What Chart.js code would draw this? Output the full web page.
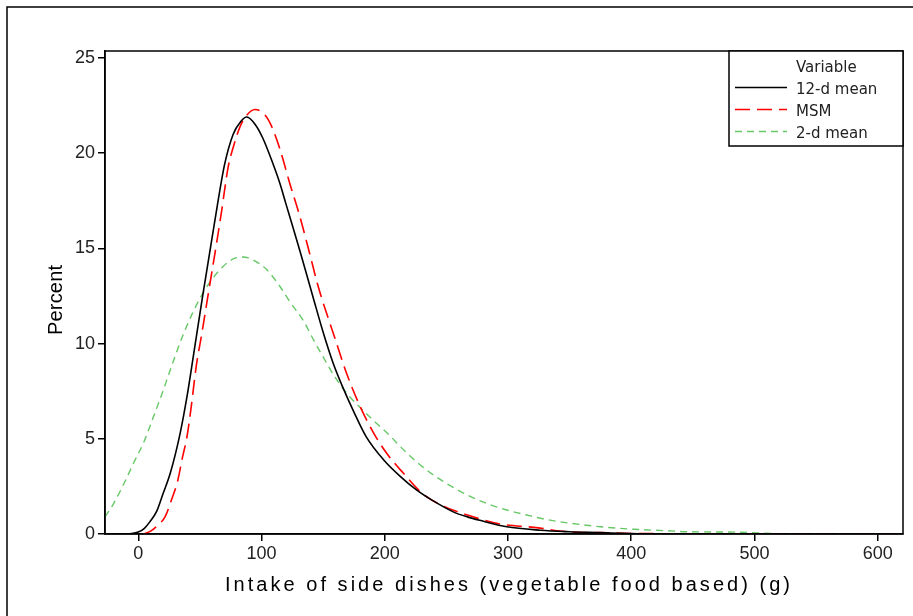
<!DOCTYPE html>
<html lang="en">
<head>
    <meta charset="UTF-8">
    <title>Intake of side dishes</title>
    <script src="https://cdn.jsdelivr.net/npm/chart.js"></script>
    <style>
        body { margin: 0; background: #fff; }
        #wrap { width: 913px; height: 616px; }
    </style>
</head>
<body>
    <div id="wrap"><canvas id="chart" width="913" height="616"></canvas></div>
    <script>
        // --- data ---
        const xTicks = [0, 100, 200, 300, 400, 500, 600];
        const yTicks = [0, 5, 10, 15, 20, 25];
        const seriesNames = ['12-d mean', 'MSM', '2-d mean'];

        const mean12X = [-8, 0, 5, 9.5, 15, 20, 26, 34, 40, 46, 52, 58, 64, 70, 77, 83, 88, 95, 101, 109, 115, 120, 131, 142, 150, 158, 166, 175, 185, 199, 213, 226, 239, 256, 267, 277, 299, 326, 350, 375, 400, 420, 620];
        const mean12Y = [0, 0.1, 0.3, 0.65, 1.2, 2.1, 3.2, 5.3, 7.4, 9.9, 12.4, 14.8, 17.2, 19.4, 21.0, 21.65, 21.9, 21.5, 20.8, 19.5, 18.4, 17.3, 14.9, 12.4, 10.6, 9.0, 7.7, 6.4, 5.1, 3.9, 3.0, 2.3, 1.75, 1.15, 0.9, 0.72, 0.38, 0.2, 0.12, 0.07, 0.02, 0, 0];

        const msmX = [4, 10, 16, 21.7, 27, 32, 36, 39.5, 43, 47, 51.5, 56, 63.6, 67.7, 73, 77, 82.6, 88, 94.7, 103, 108.3, 115, 123, 131, 139, 146, 160, 169, 180, 191, 202, 215, 231, 248, 267, 294, 321, 348, 375, 400, 440, 475, 620];
        const msmY = [0, 0.15, 0.47, 0.9, 1.8, 2.8, 4.06, 5.1, 6.7, 8.8, 10.5, 12.3, 15.3, 17.0, 19.3, 20.3, 21.4, 22.0, 22.3, 22.0, 21.4, 20.2, 18.4, 16.7, 14.75, 13.0, 10.2, 8.44, 6.7, 5.3, 4.2, 3.2, 2.1, 1.45, 1.0, 0.52, 0.35, 0.12, 0.07, 0.03, 0.01, 0, 0];

        const mean2X = [-27, -20, -12, -4, 5, 12, 20, 28, 36, 44, 52, 60, 68, 77, 85, 93, 104, 115, 123, 134, 143, 150, 158, 169, 180, 191, 202, 218, 234, 250, 267, 283, 299, 315, 333, 375, 402, 429, 445, 483, 516, 530, 620];
        const mean2Y = [0.9, 1.6, 2.6, 3.7, 4.9, 6.1, 7.5, 9.0, 10.4, 11.6, 12.6, 13.4, 14.0, 14.45, 14.55, 14.4, 13.9, 13.0, 12.2, 11.2, 10.1, 9.3, 8.4, 7.4, 6.65, 5.95, 5.3, 4.25, 3.36, 2.66, 2.05, 1.6, 1.26, 1.0, 0.74, 0.38, 0.25, 0.17, 0.12, 0.1, 0.02, 0, 0];

        const seriesX = [mean12X, msmX, mean2X];
        const seriesY = [mean12Y, msmY, mean2Y];
        const seriesColors = ['#000000', '#ff0000', '#66c866'];
        const seriesDash = [[], [15, 7], [7, 5]];
        const seriesWidth = [1.6, 1.6, 1.4];

        const fontFamily = '"Liberation Sans", Arial, sans-serif';

        // --- frame, box, legend and axis titles ---
        const decorations = {
            id: 'decorations',
            beforeDraw(chart) {
                const ctx = chart.ctx;
                ctx.save();
                ctx.strokeStyle = '#000';
                ctx.lineWidth = 1.5;
                ctx.beginPath();
                ctx.moveTo(7, 620);
                ctx.lineTo(7, 7);
                ctx.lineTo(920, 7);
                ctx.stroke();
                ctx.restore();
            },
            afterDraw(chart) {
                const ctx = chart.ctx;
                const a = chart.chartArea;
                ctx.save();
                ctx.strokeStyle = '#000';
                ctx.lineWidth = 1.5;
                ctx.strokeRect(a.left, a.top, a.right - a.left, a.bottom - a.top);

                // legend box
                const lx = 729, ly = a.top, lw = a.right - 729, lh = 95;
                ctx.fillStyle = '#fff';
                ctx.fillRect(lx, ly, lw, lh);
                ctx.strokeRect(lx, ly, lw, lh);
                ctx.fillStyle = '#222';
                ctx.font = '15px "DejaVu Sans", sans-serif';
                ctx.textBaseline = 'middle';
                ctx.textAlign = 'left';
                ctx.fillText('Variable', 796, 68);
                const rowY = [89, 111, 133];
                seriesNames.forEach((name, i) => {
                    ctx.save();
                    ctx.strokeStyle = seriesColors[i];
                    ctx.lineWidth = seriesWidth[i];
                    ctx.setLineDash(seriesDash[i]);
                    ctx.beginPath();
                    ctx.moveTo(735, rowY[i] - 1.5);
                    ctx.lineTo(787, rowY[i] - 1.5);
                    ctx.stroke();
                    ctx.restore();
                    ctx.fillText(name, 796, rowY[i] + 1);
                });

                // axis titles with wide letter spacing
                ctx.fillStyle = '#000';
                ctx.font = '20px ' + fontFamily;
                ctx.textBaseline = 'alphabetic';
                ctx.textAlign = 'left';
                const xTitle = 'Intake of side dishes (vegetable food based) (g)';
                ctx.letterSpacing = '0px';
                let w = ctx.measureText(xTitle).width;
                const gap = (565 - w) / (xTitle.length - 1);
                ctx.letterSpacing = gap + 'px';
                ctx.fillText(xTitle, 225, 591);

                ctx.translate(62, 300);
                ctx.rotate(-Math.PI / 2);
                const yTitle = 'Percent';
                ctx.letterSpacing = '0px';
                w = ctx.measureText(yTitle).width;
                const gapY = (70 - w) / (yTitle.length - 1);
                ctx.letterSpacing = gapY + 'px';
                ctx.fillText(yTitle, -35, 0);
                ctx.restore();
            }
        };

        const datasets = seriesNames.map((name, i) => ({
            label: name,
            data: seriesX[i].map((x, j) => ({ x: x, y: seriesY[i][j] })),
            borderColor: seriesColors[i],
            borderWidth: seriesWidth[i],
            borderDash: seriesDash[i],
            showLine: true,
            pointRadius: 0,
            fill: false,
            cubicInterpolationMode: 'monotone'
        }));

        new Chart(document.getElementById('chart'), {
            type: 'scatter',
            data: { datasets: datasets },
            options: {
                responsive: false,
                animation: false,
                layout: { padding: { left: 0, top: 51, right: 10, bottom: 0 } },
                plugins: { legend: { display: false }, tooltip: { enabled: false } },
                scales: {
                    x: {
                        type: 'linear',
                        min: -27,
                        max: 620.5,
                        afterBuildTicks: s => { s.ticks = xTicks.map(v => ({ value: v })); },
                        afterFit: s => { s.height = 82; },
                        grid: { drawOnChartArea: false, drawTicks: true, tickLength: 7, color: '#000', lineWidth: 1.5 },
                        border: { color: '#000', width: 1.5 },
                        ticks: { color: '#222', font: { family: fontFamily, size: 18 }, padding: 2, maxRotation: 0 }
                    },
                    y: {
                        type: 'linear',
                        min: 0,
                        max: 25.37,
                        afterBuildTicks: s => { s.ticks = yTicks.map(v => ({ value: v })); },
                        afterFit: s => { s.width = 105; },
                        grid: { drawOnChartArea: false, drawTicks: true, tickLength: 7, color: '#000', lineWidth: 1.5 },
                        border: { color: '#000', width: 1.5 },
                        ticks: { color: '#222', font: { family: fontFamily, size: 18 }, padding: 3 }
                    }
                }
            },
            plugins: [decorations]
        });
    </script>
</body>
</html>
